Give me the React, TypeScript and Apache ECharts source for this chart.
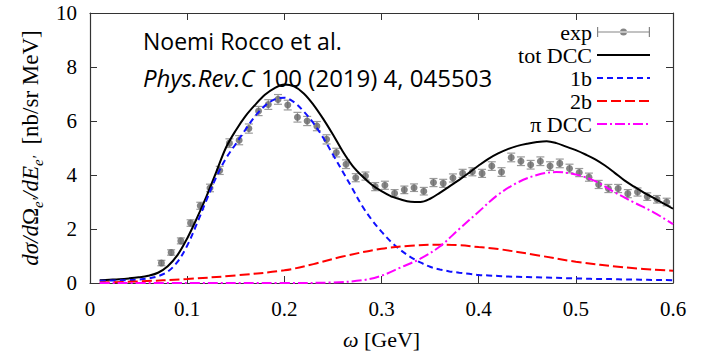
import { useEffect, useRef } from "react";
import * as echarts from "echarts";

// Measured cross section (energy transfer in GeV, value in nb/sr MeV, error)
const expOmega = [
  0.0735, 0.0835, 0.0935, 0.1035, 0.1135, 0.1235, 0.1335, 0.1435, 0.1535, 0.1635,
  0.1735, 0.1835, 0.1935, 0.2035, 0.2135, 0.2235, 0.2335, 0.2435, 0.2535, 0.2635,
  0.2735, 0.2835, 0.2935, 0.3035, 0.3135, 0.3235, 0.3335, 0.3435, 0.3535, 0.3635,
  0.3735, 0.3835, 0.3935, 0.4035, 0.4135, 0.4235, 0.4335, 0.4435, 0.4535, 0.4635,
  0.4735, 0.4835, 0.4935, 0.5035, 0.5135, 0.5235, 0.5335, 0.5435, 0.5535, 0.5635,
  0.5735, 0.5835, 0.5935,
];
const expValue = [
  0.74, 1.13, 1.56, 2.22, 2.86, 3.52, 4.17, 5.18, 5.29, 5.72,
  6.37, 6.61, 6.8, 6.59, 6.14, 6.0, 5.81, 5.32, 4.83, 4.4,
  3.9, 3.96, 3.57, 3.62, 3.32, 3.45, 3.53, 3.4, 3.72, 3.69,
  3.89, 4.06, 4.12, 4.06, 4.33, 4.11, 4.65, 4.51, 4.38, 4.51,
  4.33, 4.43, 4.24, 4.09, 3.92, 3.65, 3.5, 3.5, 3.31, 3.37,
  3.2, 3.1, 3.0,
];
const expError = [
  0.1, 0.1, 0.11, 0.12, 0.13, 0.14, 0.15, 0.16, 0.17, 0.17,
  0.17, 0.18, 0.18, 0.18, 0.18, 0.17, 0.17, 0.17, 0.16, 0.16,
  0.15, 0.15, 0.15, 0.15, 0.14, 0.14, 0.14, 0.14, 0.15, 0.15,
  0.15, 0.15, 0.15, 0.15, 0.16, 0.16, 0.16, 0.16, 0.16, 0.16,
  0.16, 0.16, 0.16, 0.15, 0.15, 0.15, 0.15, 0.15, 0.15, 0.15,
  0.14, 0.14, 0.14,
];

// Model curves
const gridOmega = [
  0.01, 0.02, 0.03, 0.04, 0.05, 0.06, 0.07, 0.08, 0.09, 0.1,
  0.11, 0.12, 0.13, 0.14, 0.15, 0.16, 0.17, 0.18, 0.19, 0.2,
  0.21, 0.22, 0.23, 0.24, 0.25, 0.26, 0.27, 0.28, 0.29, 0.3,
  0.31, 0.32, 0.33, 0.34, 0.35, 0.36, 0.37, 0.38, 0.39, 0.4,
  0.41, 0.42, 0.43, 0.44, 0.45, 0.46, 0.47, 0.48, 0.49, 0.5,
  0.51, 0.52, 0.53, 0.54, 0.55, 0.56, 0.57, 0.58, 0.59, 0.6,
];
const totDcc = [
  0.1, 0.12, 0.14, 0.17, 0.21, 0.27, 0.38, 0.62, 1.03, 1.65,
  2.4, 3.22, 4.12, 5.02, 5.65, 6.18, 6.6, 6.97, 7.22, 7.35,
  7.28, 7.02, 6.6, 6.08, 5.5, 4.88, 4.35, 3.96, 3.64, 3.4,
  3.21, 3.09, 3.01, 3.0, 3.12, 3.34, 3.58, 3.82, 4.08, 4.35,
  4.6, 4.8, 4.96, 5.08, 5.16, 5.22, 5.25, 5.18, 5.05, 4.92,
  4.76, 4.58, 4.35, 4.08, 3.8, 3.57, 3.35, 3.15, 2.95, 2.75,
];
const oneBody = [
  0.08, 0.09, 0.1, 0.11, 0.13, 0.17, 0.25, 0.42, 0.78, 1.38,
  2.2, 3.08, 3.93, 4.62, 5.15, 5.68, 6.18, 6.56, 6.8, 6.86,
  6.7, 6.35, 5.92, 5.38, 4.76, 4.13, 3.5, 2.86, 2.34, 1.9,
  1.52, 1.21, 0.96, 0.76, 0.6, 0.5, 0.43, 0.38, 0.34, 0.3,
  0.28, 0.26, 0.24, 0.23, 0.22, 0.21, 0.2, 0.19, 0.18, 0.17,
  0.16, 0.15, 0.15, 0.14, 0.13, 0.13, 0.12, 0.11, 0.11, 0.1,
];
const twoBodyOmega = [0.01, 0.05, 0.1, 0.15, 0.2, 0.23, 0.26, 0.3, 0.33, 0.36, 0.38, 0.4, 0.42, 0.46, 0.5, 0.55, 0.6];
const twoBody = [0.02, 0.06, 0.15, 0.28, 0.47, 0.7, 0.98, 1.27, 1.38, 1.42, 1.4, 1.33, 1.26, 1.03, 0.79, 0.58, 0.45];
const piOmega = [0.01, 0.1, 0.2, 0.25, 0.28, 0.3, 0.32, 0.34, 0.36, 0.38, 0.4, 0.42, 0.44, 0.46, 0.48, 0.5, 0.52, 0.54, 0.56, 0.58, 0.6];
const piDcc = [0.0, 0.0, 0.0, 0.02, 0.1, 0.27, 0.58, 0.9, 1.35, 2.0, 2.64, 3.27, 3.72, 4.0, 4.11, 4.02, 3.77, 3.36, 2.98, 2.62, 2.18];

const xTicks = { min: 0, max: 0.6, interval: 0.1 };
const yTicks = { min: 0, max: 10, interval: 2 };

const serif = "'Liberation Serif', 'Times New Roman', serif";
const sans = "'Open Sans', sans-serif";
const axisColor = "#333";

const pairs = (xs: number[], ys: number[]) => xs.map((x, i) => [x, ys[i]]);

function buildOption(): echarts.EChartsOption {
  const tickStyle = { inside: true, length: 7, lineStyle: { color: axisColor, width: 1 } };
  const lineAxis = { show: true, onZero: false, lineStyle: { color: axisColor, width: 1.2 } };
  const hideMarker = { itemStyle: { opacity: 0 } };
  return {
    animation: false,
    backgroundColor: "#fff",
    textStyle: { fontFamily: serif },
    grid: { left: 90, right: 29, top: 13, bottom: 71 },
    xAxis: [
      {
        type: "value",
        ...xTicks,
        position: "bottom",
        axisLine: lineAxis,
        axisTick: tickStyle,
        splitLine: { show: false },
        axisLabel: {
          fontFamily: serif,
          fontSize: 21,
          color: "#000",
          margin: 15,
          formatter: (v: number) => (v === 0 ? "0" : v.toFixed(1)),
        },
        name: "{i|ω} {r|[GeV]}",
        nameLocation: "middle",
        nameGap: 45,
        nameTextStyle: {
          fontFamily: serif,
          fontSize: 22,
          rich: {
            i: { fontFamily: serif, fontStyle: "italic", fontSize: 22, color: "#000" },
            r: { fontFamily: serif, fontSize: 22, color: "#000" },
          },
        },
      },
      {
        type: "value",
        ...xTicks,
        position: "top",
        axisLine: lineAxis,
        axisTick: tickStyle,
        axisLabel: { show: false },
        splitLine: { show: false },
      },
    ],
    yAxis: [
      {
        type: "value",
        ...yTicks,
        position: "left",
        axisLine: lineAxis,
        axisTick: tickStyle,
        splitLine: { show: false },
        axisLabel: { fontFamily: serif, fontSize: 21, color: "#000", margin: 13 },
        name: "{m|dσ/d}{u|Ω}{s|e′}{m|/dE}{s|e′}{r|  [nb/sr MeV]}",
        nameLocation: "middle",
        nameRotate: 90,
        nameGap: 42,
        nameTextStyle: {
          fontFamily: serif,
          fontSize: 23,
          rich: {
            m: { fontFamily: serif, fontStyle: "italic", fontSize: 23, color: "#000", lineHeight: 29 },
            u: { fontFamily: serif, fontSize: 23, color: "#000", lineHeight: 29 },
            s: { fontFamily: serif, fontStyle: "italic", fontSize: 15, color: "#000", verticalAlign: "bottom" },
            r: { fontFamily: serif, fontSize: 23, color: "#000", lineHeight: 29 },
          },
        },
      },
      {
        type: "value",
        ...yTicks,
        position: "right",
        axisLine: lineAxis,
        axisTick: tickStyle,
        axisLabel: { show: false },
        splitLine: { show: false },
      },
    ],
    legend: {
      orient: "vertical",
      align: "right",
      right: 51,
      top: 21,
      padding: 0,
      itemWidth: 53,
      itemHeight: 10,
      itemGap: 1,
      selectedMode: false,
      textStyle: { fontFamily: serif, fontSize: 22, color: "#000" },
      data: [
        {
          name: "exp",
          icon: "path://M0,4.4H53V5.6H0Z M0,0H1.2V10H0Z M51.8,0H53V10H51.8Z M23,5A3.5,3.5 0 1 0 30,5A3.5,3.5 0 1 0 23,5Z",
        },
        { name: "tot DCC", ...hideMarker },
        { name: "1b", ...hideMarker },
        { name: "2b", ...hideMarker },
        { name: "π DCC", ...hideMarker },
      ],
    },
    graphic: [
      {
        type: "text",
        x: 143,
        y: 41,
        style: {
          text: "Noemi Rocco et al.",
          fontFamily: sans,
          fontSize: 23,
          fill: "#000",
          align: "left",
          verticalAlign: "middle",
        },
      },
      {
        type: "text",
        x: 143,
        y: 77,
        style: {
          text: "{i|Phys.Rev.C}{n| 100 (2019) 4, 045503}",
          fontFamily: sans,
          fontSize: 24,
          align: "left",
          verticalAlign: "middle",
          rich: {
            i: { fontFamily: sans, fontStyle: "italic", fontSize: 24, fill: "#000" },
            n: { fontFamily: sans, fontSize: 24, fill: "#000" },
          },
        } as any,
      },
    ],
    series: [
      {
        name: "exp error",
        type: "custom",
        z: 2,
        data: expOmega.map((w, i) => [w, expValue[i], expError[i]]),
        encode: { x: 0, y: 1 },
        renderItem: (_params: any, api: any) => {
          const x = api.value(0);
          const y = api.value(1);
          const e = api.value(2);
          const hi = api.coord([x, y + e]);
          const lo = api.coord([x, y - e]);
          const hw = 4;
          const style = { stroke: "#9a9a9a", lineWidth: 1.2 };
          return {
            type: "group",
            children: [
              { type: "line", shape: { x1: hi[0], y1: hi[1], x2: lo[0], y2: lo[1] }, style },
              { type: "line", shape: { x1: hi[0] - hw, y1: hi[1], x2: hi[0] + hw, y2: hi[1] }, style },
              { type: "line", shape: { x1: lo[0] - hw, y1: lo[1], x2: lo[0] + hw, y2: lo[1] }, style },
            ],
          };
        },
      },
      {
        name: "exp",
        type: "scatter",
        z: 3,
        symbol: "circle",
        symbolSize: 7,
        itemStyle: { color: "#666666" },
        data: pairs(expOmega, expValue),
      },
      {
        name: "tot DCC",
        type: "line",
        z: 4,
        symbol: "none",
        smooth: 0.35,
        lineStyle: { color: "#000", width: 2, type: "solid" },
        itemStyle: { color: "#000" },
        data: pairs(gridOmega, totDcc),
      },
      {
        name: "1b",
        type: "line",
        z: 4,
        symbol: "none",
        smooth: 0.35,
        lineStyle: { color: "#1010ff", width: 2, type: [6, 4] },
        itemStyle: { color: "#1010ff" },
        data: pairs(gridOmega, oneBody),
      },
      {
        name: "2b",
        type: "line",
        z: 4,
        symbol: "none",
        smooth: 0.35,
        lineStyle: { color: "#ff0000", width: 2, type: [10, 4] },
        itemStyle: { color: "#ff0000" },
        data: pairs(twoBodyOmega, twoBody),
      },
      {
        name: "π DCC",
        type: "line",
        z: 4,
        symbol: "none",
        smooth: 0.35,
        lineStyle: { color: "#ff00ff", width: 2, type: [10, 3, 2, 3] },
        itemStyle: { color: "#ff00ff" },
        data: pairs(piOmega, piDcc),
      },
    ],
  } as echarts.EChartsOption;
}

export default function App() {
  const ref = useRef<HTMLDivElement>(null);
  useEffect(() => {
    if (!ref.current) return;
    const chart = echarts.init(ref.current, null, { renderer: "svg" });
    chart.setOption(buildOption());
    return () => chart.dispose();
  }, []);
  return (
    <div
      ref={ref}
      style={{ position: "fixed", left: 0, top: 0, width: 702, height: 355, background: "#fff" }}
    />
  );
}
